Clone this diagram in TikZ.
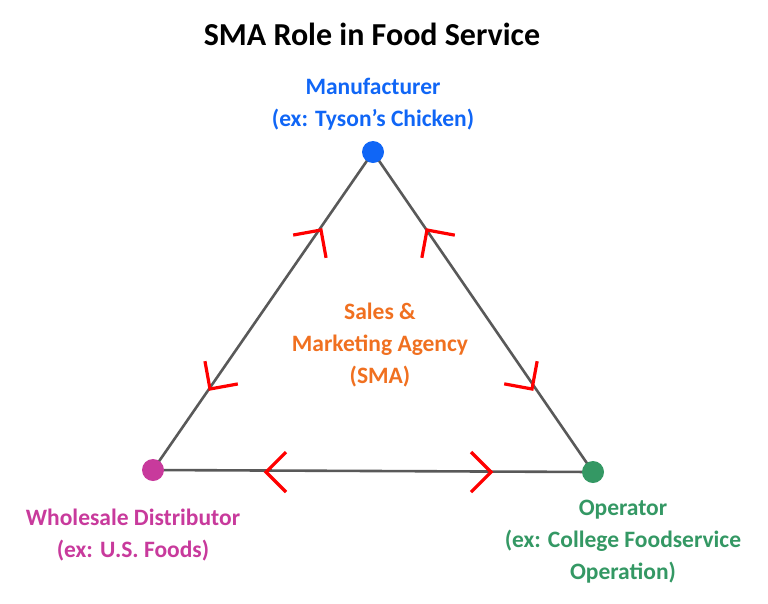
\documentclass[tikz,border=0pt]{standalone}
\usepackage{fontspec}
\setmainfont{Carlito}
\begin{document}
\begin{tikzpicture}[x=1pt,y=-1pt,
  edge/.style={draw=black!65,line width=2.6pt},
  chev/.style={draw=red,line width=3.2pt,line join=miter},
  lbl/.style={font=\bfseries\fontsize{23.5}{32}\selectfont,align=center,inner sep=0pt},
  dot/.style={circle,inner sep=0pt,minimum size=22pt}]
\useasboundingbox (0,0) rectangle (768,603);
\node[font=\bfseries\fontsize{32}{36}\selectfont] (title) at (372,34) {SMA Role in Food Service};
\coordinate (mc) at (373,152);
\coordinate (wc) at (153,470);
\coordinate (oc) at (593,472);
\draw[edge] (mc) -- (wc);
\draw[edge] (mc) -- (oc);
\draw[edge] (wc) -- (oc);
\node[dot,fill={rgb,255:red,16;green,102;blue,246}] (m) at (mc) {};
\node[dot,fill={rgb,255:red,200;green,58;blue,156}] (w) at (wc) {};
\node[dot,fill={rgb,255:red,52;green,152;blue,100}] (o) at (oc) {};
\foreach \x/\y/\a in {321/230/55.3, 210/389/235.3, 427/230/124.5, 532/389/-55.5, 266/472/180, 491/472/0}
  \draw[chev,shift={(\x,\y)},rotate=\a] (-20,20) -- (0,0) -- (-20,-20);
\node[lbl,text={rgb,255:red,16;green,102;blue,246}] (ml) at (373,104) {Manufacturer\\(ex: Tyson’s Chicken)};
\node[lbl,text={rgb,255:red,240;green,112;blue,32}] (sl) at (380,345) {Sales \&\\Marketing Agency\\(SMA)};
\node[lbl,text={rgb,255:red,200;green,58;blue,156}] (wl) at (133,535) {Wholesale Distributor\\(ex: U.S. Foods)};
\node[lbl,text={rgb,255:red,52;green,152;blue,100}] (ol) at (623,542) {Operator\\(ex: College Foodservice\\Operation)};
\end{tikzpicture}
\end{document}
